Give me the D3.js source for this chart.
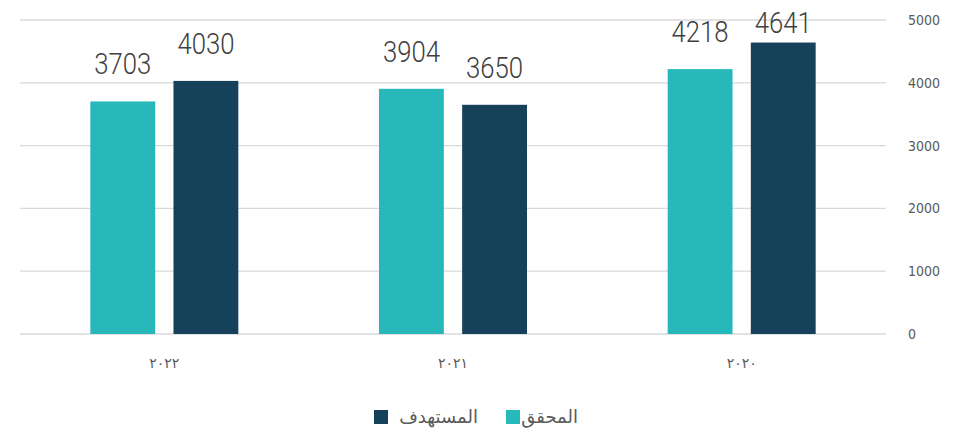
<!DOCTYPE html>
<html>
<head>
<meta charset="utf-8">
<script src="https://cdn.jsdelivr.net/npm/d3@7"></script>
<style>
  body { margin: 0; background: #fff; }
  #chart { width: 958px; height: 429px; }
  text { font-family: "Liberation Sans Narrow", "DejaVu Sans Condensed", "Noto Sans", sans-serif; }
</style>
</head>
<body>
<div id="chart"></div>
<script>
// categories, drawn right to left
const years = ['٢٠٢٠', '٢٠٢١', '٢٠٢٢'];
const seriesNames = ['المحقق', 'المستهدف'];
const achieved = [4218, 3904, 3703];
const target = [4641, 3650, 4030];
const yTicks = [0, 1000, 2000, 3000, 4000, 5000];
const colors = ['#27b9b9', '#15425a'];

const width = 958, height = 429;
const margin = { top: 20, right: 72, bottom: 95, left: 20 };

const svg = d3.select('#chart').append('svg')
  .attr('width', width)
  .attr('height', height);

const x = d3.scaleBand()
  .domain(years)
  .range([width - margin.right, margin.left])
  .paddingInner(0)
  .paddingOuter(0);

const sub = d3.scaleBand()
  .domain(seriesNames)
  .range([x.bandwidth() / 2 - 74, x.bandwidth() / 2 + 74])
  .paddingInner(0.22);

const y = d3.scaleLinear()
  .domain([0, 5000])
  .range([height - margin.bottom, margin.top]);

// grid + right axis labels
const grid = svg.append('g').attr('class', 'grid');
grid.selectAll('line')
  .data(yTicks)
  .enter().append('line')
  .attr('x1', margin.left)
  .attr('x2', width - margin.right)
  .attr('y1', d => y(d))
  .attr('y2', d => y(d))
  .attr('stroke', '#d9d9d9')
  .attr('stroke-width', 1.3);

svg.append('g').selectAll('text')
  .data(yTicks)
  .enter().append('text')
  .attr('x', 908)
  .attr('y', d => y(d) + 5)
  .attr('font-size', 14)
  .attr('fill', '#595959')
  .text(d => d);

const rows = years.map((yr, i) => ({ year: yr, values: [achieved[i], target[i]] }));

const groups = svg.append('g').selectAll('g')
  .data(rows)
  .enter().append('g')
  .attr('transform', d => 'translate(' + x(d.year) + ',0)');

groups.selectAll('rect')
  .data(d => d.values.map((v, j) => ({ name: seriesNames[j], value: v, j: j })))
  .enter().append('rect')
  .attr('x', d => sub(d.name))
  .attr('width', sub.bandwidth())
  .attr('y', d => y(d.value))
  .attr('height', d => y(0) - y(d.value))
  .attr('fill', d => colors[d.j]);

groups.selectAll('text.val')
  .data(d => d.values.map((v, j) => ({ name: seriesNames[j], value: v })))
  .enter().append('text')
  .attr('class', 'val')
  .attr('x', d => sub(d.name) + sub.bandwidth() / 2)
  .attr('y', d => Math.max(y(d.value) - 27, 33))
  .attr('text-anchor', 'middle')
  .attr('font-size', 30)
  .attr('textLength', 57)
  .attr('lengthAdjust', 'spacingAndGlyphs')
  .attr('fill', '#404040')
  .style('font-family', 'Roboto, sans-serif')
  .style('font-weight', 300)
  .text(d => d.value);

// x axis labels
svg.append('g').selectAll('text')
  .data(years)
  .enter().append('text')
  .attr('x', d => x(d) + x.bandwidth() / 2)
  .attr('y', 368)
  .attr('text-anchor', 'middle')
  .attr('font-size', 14)
  .attr('fill', '#595959')
  .style('font-family', '"Noto Sans", "DejaVu Sans", sans-serif')
  .text(d => d);

// legend
const legend = svg.append('g').attr('class', 'legend');
const legendItems = [
  { name: seriesNames[0], color: colors[0], sq: 506, tx: 578 },
  { name: seriesNames[1], color: colors[1], sq: 374, tx: 478 }
];
legendItems.forEach(function(d) {
  legend.append('rect')
    .attr('x', d.sq).attr('y', 410)
    .attr('width', 14).attr('height', 14)
    .attr('fill', d.color);
  legend.append('text')
    .attr('x', d.tx).attr('y', 423)
    .attr('text-anchor', 'end')
    .attr('font-size', 18)
    .attr('fill', '#595959')
    .style('font-family', '"Noto Sans", "DejaVu Sans", sans-serif')
    .text(d.name);
});
</script>
</body>
</html>
